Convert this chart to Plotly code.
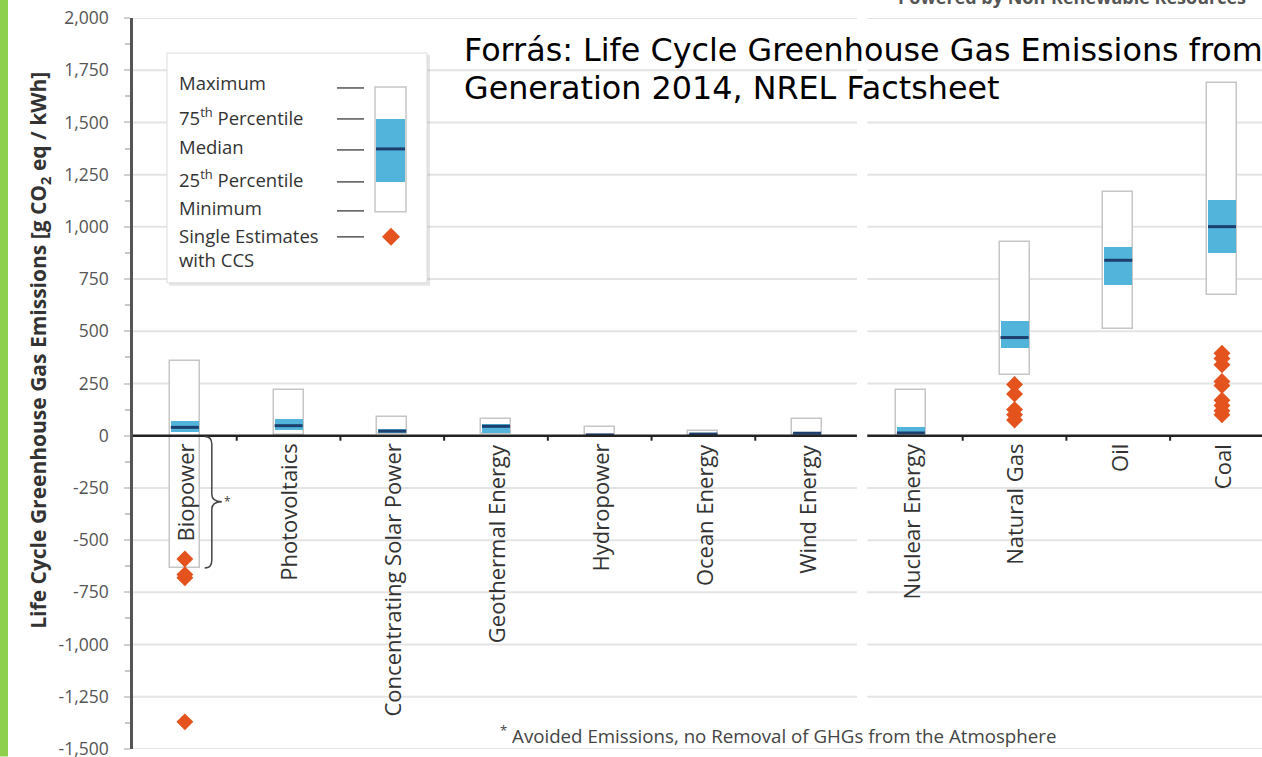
import plotly.graph_objects as go

# ---------------- data ----------------
categories = ["Biopower", "Photovoltaics", "Concentrating Solar Power", "Geothermal Energy",
              "Hydropower", "Ocean Energy", "Wind Energy", "Nuclear Energy",
              "Natural Gas", "Oil", "Coal"]
minimum = [-633, 5, 7, 6, 0, 2, 2, 1, 290, 510, 675]
p25 = [20, 29, 14, 15, 3, 5, 8, 8, 422, 722, 877]
median = [40, 48, 22, 45, 4, 8, 12, 13, 470, 840, 1001]
p75 = [72, 80, 30, 58, 7, 11, 20, 43, 547, 903, 1129]
maximum = [360, 217, 89, 79, 43, 23, 81, 220, 927, 1167, 1689]

ccs_biopower = [-590, -665, -680, -1370]
ccs_natural_gas = [245, 200, 125, 100, 75]
ccs_coal = [395, 370, 340, 260, 240, 170, 145, 120, 100]

ytick_vals = [-1500, -1250, -1000, -750, -500, -250, 0, 250, 500, 750, 1000, 1250, 1500, 1750, 2000]
ytick_text = ["-1,500", "-1,250", "-1,000", "-750", "-500", "-250", "0", "250", "500",
              "750", "1,000", "1,250", "1,500", "1,750", "2,000"]

legend_labels = ["Maximum", "75<sup>th</sup> Percentile", "Median", "25<sup>th</sup> Percentile",
                 "Minimum", "Single Estimates<br>with CCS"]

# ---------------- styling ----------------
FONT = "Open Sans"
BOX_W = 0.29
BLUE = "#52b4da"
NAVY = "#1d3f6e"
ORANGE = "#e4531e"
GRID = "#e4e4e4"
N = len(categories)
PANEL_SPLIT = 7          # index of first non-renewable category
GAP = (6.48, 6.58)
XR = [-0.5, 10.386]

W, H = 1262, 757
ML, MT, MB = 133, 18, 7.5
PW, PH = W - ML, H - MT - MB


def px(x):
    return (x - ML) / PW


def py(y):
    return (MT + PH - y) / PH


xs = list(range(N))
fig = go.Figure()

# white min-max boxes
fig.add_trace(go.Bar(x=xs, base=minimum, y=[mx - mn for mx, mn in zip(maximum, minimum)],
                     width=BOX_W, marker=dict(color="white", line=dict(color="#c6c6c6", width=1.5)),
                     hoverinfo="skip", showlegend=False))
# interquartile band
fig.add_trace(go.Bar(x=xs, base=p25, y=[b - a for a, b in zip(p25, p75)],
                     width=BOX_W - 0.02, marker=dict(color=BLUE, line=dict(width=0)),
                     hoverinfo="skip", showlegend=False))
# median lines
mx_, my_ = [], []
for i, m in enumerate(median):
    mx_ += [i - (BOX_W - 0.02) / 2, i + (BOX_W - 0.02) / 2, None]
    my_ += [m, m, None]
fig.add_trace(go.Scatter(x=mx_, y=my_, mode="lines", line=dict(color=NAVY, width=3),
                         hoverinfo="skip", showlegend=False))
# CCS single estimates
for cat, vals in [("Biopower", ccs_biopower), ("Natural Gas", ccs_natural_gas), ("Coal", ccs_coal)]:
    i = categories.index(cat)
    fig.add_trace(go.Scatter(x=[i] * len(vals), y=vals, mode="markers",
                             marker=dict(symbol="diamond", size=13, color=ORANGE, line=dict(width=0)),
                             hoverinfo="skip", showlegend=False))

shapes = []
# gridlines (two panels)
for v in ytick_vals:
    if v == 0:
        continue
    for x0, x1 in [(XR[0], GAP[0]), (GAP[1], XR[1])]:
        shapes.append(dict(type="line", xref="x", yref="y", x0=x0, x1=x1, y0=v, y1=v,
                           line=dict(color=GRID, width=2), layer="below"))
# zero axis line with gap
for x0, x1 in [(XR[0], GAP[0]), (GAP[1], XR[1])]:
    shapes.append(dict(type="line", xref="x", yref="y", x0=x0, x1=x1, y0=0, y1=0,
                       line=dict(color="#222", width=2.5), layer="above"))
# category ticks on zero line
for i in range(N - 1):
    if i + 1 == PANEL_SPLIT:
        continue
    shapes.append(dict(type="line", xref="x", yref="y", ysizemode="pixel", yanchor=0,
                       x0=i + 0.5, x1=i + 0.5, y0=0, y1=-5, line=dict(color="#222", width=2)))
# bracket beside biopower
bmin = minimum[0]
bx0, bx1, bx2 = 0.19, 0.26, 0.357
mid = bmin / 2
path = (f"M {bx0},-4 Q {bx1},-4 {bx1},-40 L {bx1},{mid + 36} Q {bx1},{mid} {bx2},{mid} "
        f"Q {bx1},{mid} {bx1},{mid - 36} L {bx1},{bmin + 36} Q {bx1},{bmin} {bx0},{bmin}")
shapes.append(dict(type="path", xref="x", yref="y", path=path, line=dict(color="#444", width=1.5)))

# green strip at left edge
shapes.append(dict(type="rect", xref="paper", yref="paper", x0=px(0), x1=px(8), y0=py(757), y1=py(0),
                   fillcolor="#8dd04e", line=dict(width=0)))

# legend key box (shadow + box)
shapes.append(dict(type="rect", xref="paper", yref="paper", x0=px(169), x1=px(430), y0=py(286), y1=py(55),
                   fillcolor="rgba(0,0,0,0.10)", line=dict(width=0), layer="above"))
shapes.append(dict(type="rect", xref="paper", yref="paper", x0=px(167), x1=px(427), y0=py(283), y1=py(53),
                   fillcolor="white", line=dict(color="#dcdcdc", width=1), layer="above"))
row_y = [88, 119, 150, 182, 211, 237]
for yy in row_y:
    shapes.append(dict(type="line", xref="paper", yref="paper", x0=px(337), x1=px(364), y0=py(yy), y1=py(yy),
                       line=dict(color="#555", width=1.5), layer="above"))
shapes.append(dict(type="rect", xref="paper", yref="paper", x0=px(375), x1=px(406), y0=py(212), y1=py(87),
                   fillcolor="white", line=dict(color="#c6c6c6", width=1.5), layer="above"))
shapes.append(dict(type="rect", xref="paper", yref="paper", x0=px(376), x1=px(405), y0=py(182), y1=py(119),
                   fillcolor=BLUE, line=dict(width=0), layer="above"))
shapes.append(dict(type="line", xref="paper", yref="paper", x0=px(376), x1=px(405), y0=py(149), y1=py(149),
                   line=dict(color=NAVY, width=3), layer="above"))
dcx, dcy, dr = 391, 237, 9
shapes.append(dict(type="path", xref="paper", yref="paper", layer="above",
                   path=f"M {px(dcx)},{py(dcy - dr)} L {px(dcx + dr)},{py(dcy)} L {px(dcx)},{py(dcy + dr)} "
                        f"L {px(dcx - dr)},{py(dcy)} Z",
                   fillcolor=ORANGE, line=dict(width=0)))

annotations = []
# category labels
for i, c in enumerate(categories):
    annotations.append(dict(x=i, y=0, xref="x", yref="y", text=c, showarrow=False, textangle=-90,
                            xanchor="center", yanchor="top", yshift=-6,
                            font=dict(family=FONT, size=22, color="#333")))
# legend labels
leg_text_y = [83, 117, 147, 179, 208]
for t, yy in zip(legend_labels[:5], leg_text_y):
    annotations.append(dict(x=px(177), y=py(yy), xref="paper", yref="paper", text=t, showarrow=False,
                            xanchor="left", yanchor="middle", font=dict(family=FONT, size=18.5, color="#333")))
annotations.append(dict(x=px(177), y=py(248), xref="paper", yref="paper", text=legend_labels[5],
                        showarrow=False, xanchor="left", yanchor="middle", align="left",
                        font=dict(family=FONT, size=18.5, color="#333")))
# asterisk next to bracket
annotations.append(dict(x=0.41, y=mid, xref="x", yref="y", text="*", showarrow=False,
                        font=dict(family=FONT, size=12, color="#444")))
# footnote
annotations.append(dict(x=px(498), y=py(735), xref="paper", yref="paper",
                        text="<sup>*</sup> Avoided Emissions, no Removal of GHGs from the Atmosphere",
                        showarrow=False, xanchor="left", yanchor="middle",
                        font=dict(family=FONT, size=18.7, color="#444")))
# cut-off header of right panel
annotations.append(dict(x=px(1072), y=py(-3), xref="paper", yref="paper",
                        text="<b>Powered by Non-Renewable Resources</b>", showarrow=False,
                        xanchor="center", yanchor="middle", font=dict(family=FONT, size=18, color="#555")))
# y-axis title
annotations.append(dict(x=px(39), y=py(351), xref="paper", yref="paper", textangle=-90,
                        text="<b>Life Cycle Greenhouse Gas Emissions [g CO<sub>2</sub> eq / kWh]</b>",
                        showarrow=False, xanchor="center", yanchor="middle",
                        font=dict(family=FONT, size=21, color="#333")))
# source overlay
annotations.append(dict(x=px(462), y=py(50), xref="paper", yref="paper",
                        text="Forrás: Life Cycle Greenhouse Gas Emissions from", showarrow=False,
                        xanchor="left", yanchor="middle", font=dict(family="DejaVu Sans", size=31.8, color="black")))
annotations.append(dict(x=px(462), y=py(88), xref="paper", yref="paper",
                        text="Generation 2014, NREL Factsheet", showarrow=False,
                        xanchor="left", yanchor="middle", font=dict(family="DejaVu Sans", size=31.8, color="black")))

fig.update_layout(
    width=W, height=H,
    margin=dict(l=ML, r=0, t=MT, b=MB, pad=0),
    paper_bgcolor="white", plot_bgcolor="white",
    barmode="overlay", bargap=0,
    showlegend=False,
    shapes=shapes, annotations=annotations,
    xaxis=dict(range=XR, showgrid=False, zeroline=False, showticklabels=False, ticks="",
               showline=False, fixedrange=True),
    yaxis=dict(range=[-1500, 2000], tickvals=ytick_vals, ticktext=ytick_text, automargin=False,
               showgrid=False, zeroline=False, showline=True, linecolor="#555", linewidth=2.5,
               ticks="outside", ticklen=6, tickcolor="#d0d0d0", tickwidth=2,
               minor=dict(ticks="outside", ticklen=5, tickcolor="#c8c8c8", dtick=125, tick0=125),
               ticklabelstandoff=12, ticklabeloverflow="allow",
               tickfont=dict(family=FONT, size=17.5, color="#555")),
)

fig.write_html("out.html", config={"displayModeBar": False},
               post_script="document.documentElement.style.margin='0';document.body.style.margin='0';"
                           "document.body.style.overflow='hidden';")
